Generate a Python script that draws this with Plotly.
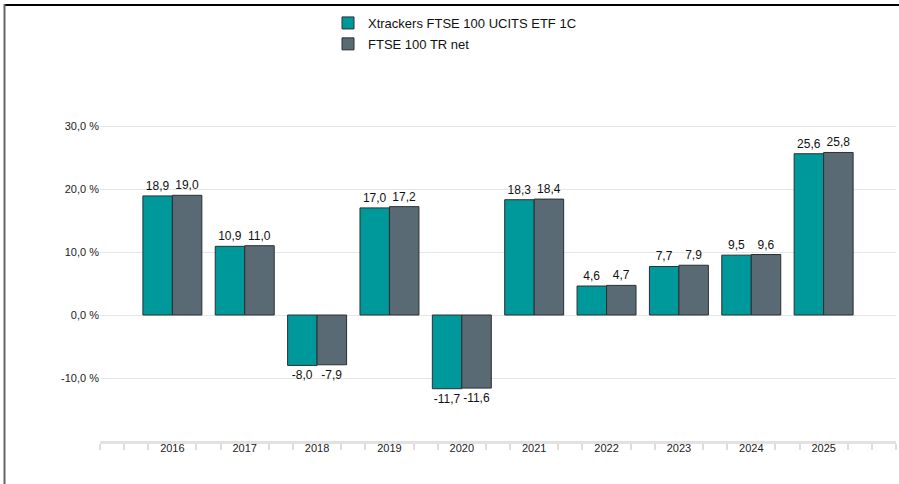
import plotly.graph_objects as go

years = ["2016", "2017", "2018", "2019", "2020", "2021", "2022", "2023", "2024", "2025"]
etf_values = [18.9, 10.9, -8.0, 17.0, -11.7, 18.3, 4.6, 7.7, 9.5, 25.6]
index_values = [19.0, 11.0, -7.9, 17.2, -11.6, 18.4, 4.7, 7.9, 9.6, 25.8]
series_names = ["Xtrackers FTSE 100 UCITS ETF 1C", "FTSE 100 TR net"]
y_ticks = [-20, -10, 0, 10, 20, 30, 40]

x_idx = list(range(len(years)))
teal = "#00999B"
slate = "#5A6A75"
outline = "#2A2F33"

fig = go.Figure()
for i, (name, vals, col) in enumerate([(series_names[0], etf_values, teal), (series_names[1], index_values, slate)]):
    fig.add_trace(go.Bar(
        x=x_idx, y=vals, name=name, legendgroup=f"g{i}",
        marker=dict(color=col, line=dict(color=outline, width=1)),
        texttemplate="%{y:.1f}", textposition="outside",
        textfont=dict(size=12, color="#111111", family="Arial, Liberation Sans"),
        cliponaxis=False,
    ))

n = len(years)
minor_vals = [k / 3 for k in range(-3, 3 * n + 1) if k % 3 != 0 or k in (-3, 3 * n)]

fig.update_layout(
    width=899, height=484,
    margin=dict(l=100, r=3, t=63, b=43),
    paper_bgcolor="white", plot_bgcolor="white",
    barmode="group", bargap=0.185, bargroupgap=0,
    separators=", ",
    font=dict(family="Arial, Liberation Sans", size=11, color="#222222"),
    showlegend=True,
    legend=dict(x=(328 - 100) / 796, y=1 + (63 - 8) / 378, xanchor="left", yanchor="top",
                font=dict(size=13, color="#111111"), tracegroupgap=1,
                traceorder="grouped",
                itemwidth=30, bgcolor="rgba(0,0,0,0)"),
    xaxis=dict(
        range=[-1, n], tickmode="array", tickvals=x_idx, ticktext=years,
        ticks="", showgrid=False, zeroline=False,
        showline=True, linecolor="#E2E2E2", linewidth=3,
        tickfont=dict(size=11, color="#222222"),
        ticklabelstandoff=-5,
        minor=dict(tickmode="array", tickvals=minor_vals, ticks="outside",
                   ticklen=6, tickcolor="#DDDDDD", tickwidth=2, showgrid=False),
    ),
    yaxis=dict(
        range=[-20, 40], tickmode="array", tickvals=y_ticks,
        ticktext=["" if v in (-20, 40) else f"{v:.1f}".replace(".", ",") + " %" for v in y_ticks],
        showgrid=True, gridcolor="#E6E6E6", gridwidth=1, zeroline=False,
        showline=False, ticks="", tickfont=dict(size=11, color="#222222"),
    ),
    shapes=[
        dict(type="line", xref="paper", yref="paper", layer="above",
             x0=(4 - 100) / 796, x1=(899 - 100) / 796,
             y0=1 + (63 - 5) / 378, y1=1 + (63 - 5) / 378,
             line=dict(color="#000000", width=2)),
        dict(type="line", xref="paper", yref="paper", layer="above",
             x0=(4.5 - 100) / 796, x1=(4.5 - 100) / 796,
             y0=1 + (63 - 4) / 378, y1=-(43) / 378,
             line=dict(color="#666666", width=2)),
    ],
)

fig.write_html("out.html", config={"displayModeBar": False},
               post_script="document.body.style.margin='0px';")
